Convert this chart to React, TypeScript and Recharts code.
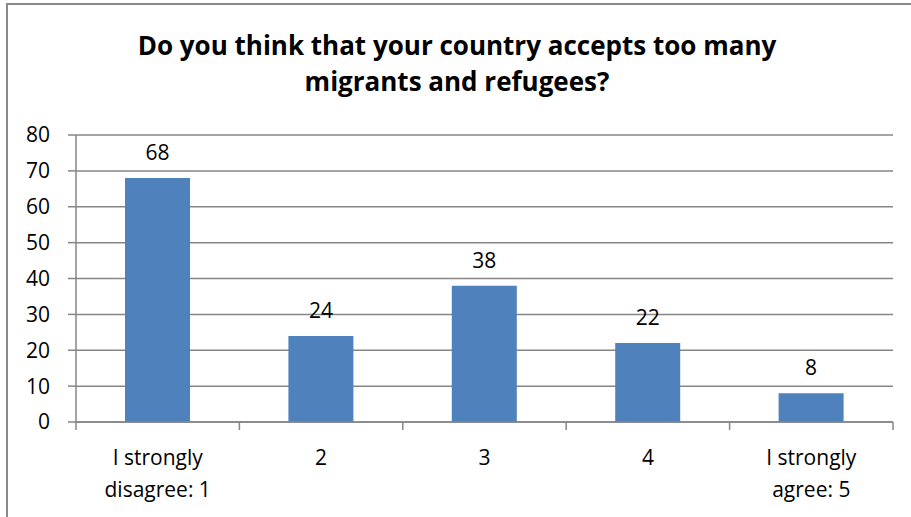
import { BarChart, Bar, XAxis, YAxis, CartesianGrid, LabelList } from 'recharts'

const categories = ['I strongly\ndisagree: 1', '2', '3', '4', 'I strongly\nagree: 5']
const responses = [68, 24, 38, 22, 8]
const yTicks = [0, 10, 20, 30, 40, 50, 60, 70, 80]

const data = categories.map((c, i) => ({ name: c, value: responses[i] }))

const FONT = '"Open Sans", Lato, sans-serif'
const GRID = '#868686'

// category label plus the tick marks sitting on the band edges
function CategoryTick(props: any) {
  const { x, y, payload, index, visibleTicksCount } = props
  const half = payload.offset || 0
  const lines = String(payload.value).split('\n')
  return (
    <g>
      <line x1={x - half} x2={x - half} y1={y} y2={y + 8} stroke={GRID} strokeWidth={1.5} />
      {index === visibleTicksCount - 1 && (
        <line x1={x + half} x2={x + half} y1={y} y2={y + 8} stroke={GRID} strokeWidth={1.5} />
      )}
      <text textAnchor="middle" fontFamily={FONT} fontSize={21} fill="#000">
        {lines.map((l, i) => (
          <tspan key={i} x={x} y={y + 43 + i * 32}>{l}</tspan>
        ))}
      </text>
    </g>
  )
}

export default function App() {
  return (
    <div style={{ position: 'fixed', left: 0, top: 0, width: 911, height: 517, overflow: 'hidden', background: '#fff' }}>
      <div style={{ position: 'absolute', left: 6, top: 3, width: 940, height: 560, border: '2px solid #898989', boxSizing: 'border-box' }} />
      <div
        style={{
          position: 'absolute', left: 0, top: 27, width: 914, textAlign: 'center',
          fontFamily: FONT, fontWeight: 700, fontSize: 26, lineHeight: '36px', color: '#000',
        }}
      >
        Do you think that your country accepts too many
        <br />
        migrants and refugees?
      </div>
      <div style={{ position: 'absolute', left: 0, top: 0 }}>
        <BarChart width={911} height={517} data={data} margin={{ top: 135, right: 18, left: 0, bottom: 0 }} barSize={65}>
          <CartesianGrid vertical={false} stroke={GRID} strokeWidth={1.5} />
          <XAxis
            dataKey="name"
            height={95}
            interval={0}
            axisLine={{ stroke: GRID, strokeWidth: 1.5 }}
            tickLine={false}
            tickSize={0}
            tickMargin={0}
            tick={<CategoryTick />}
          />
          <YAxis
            width={76}
            domain={[0, 80]}
            ticks={yTicks}
            interval={0}
            axisLine={{ stroke: GRID, strokeWidth: 1.5 }}
            tickLine={{ stroke: GRID, strokeWidth: 1.5 }}
            tickSize={8}
            tickMargin={18}
            tick={{ fontFamily: FONT, fontSize: 21, fill: '#000' }}
          />
          <Bar dataKey="value" fill="#4F81BD" isAnimationActive={false}>
            <LabelList dataKey="value" position="top" offset={18} fontFamily={FONT} fontSize={21} fill="#000" />
          </Bar>
        </BarChart>
      </div>
    </div>
  )
}
